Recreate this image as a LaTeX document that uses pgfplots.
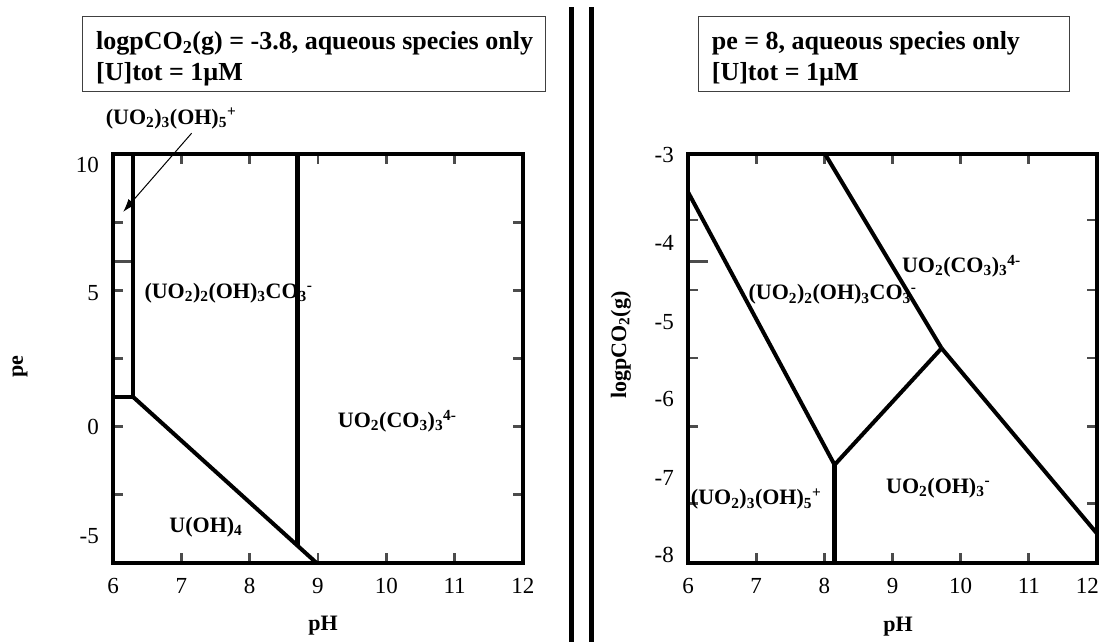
\documentclass[border=0pt]{standalone}
\usepackage{fontspec}
\setmainfont{Liberation Serif}
\usepackage{pgfplots}
\pgfplotsset{compat=1.18}
\usetikzlibrary{arrows.meta}

\newcommand{\sbs}[1]{\textsubscript{#1}}
\newcommand{\sps}[1]{\textsuperscript{#1}}
\newcommand{\tickfont}{\fontsize{23}{27}\selectfont}
\newcommand{\spfont}{\fontsize{22}{26}\selectfont\bfseries}
\newcommand{\titlefont}{\fontsize{26}{31}\selectfont\bfseries}

\pgfplotsset{
  pdiag/.style={
    scale only axis, axis line style={draw=none}, clip=false,
    xmin=6, xmax=12, xtick={6,...,12},
    tick align=inside, major tick length=10pt,
    tick style={line width=2.7pt, color=black!70},
    xticklabel style={font=\tickfont, inner sep=0pt, yshift=-15pt},
    yticklabels={},
    extra tick style={major tick length=0pt},
    extra y tick style={yticklabel style={font=\tickfont, inner sep=0pt, xshift=-14pt}},
  },
  bnd/.style={black, line width=4pt, no marks},
}
\tikzset{sp/.style={font=\spfont, inner sep=0pt}}

\begin{document}
\begin{tikzpicture}[x=1pt,y=1pt]
\useasboundingbox (0,0) rectangle (1103,642);

% pe-pH diagram at fixed pCO2
\begin{axis}[pdiag, at={(113pt,79pt)}, anchor=south west,
    width=410pt, height=409pt, ymin=-5, ymax=10,
    xticklabels={6,7,8,9,10,11,12},
    ytick={-2.5,0,2.5,5,7.5},
    extra y ticks={9.6,4.9,0,-4.03}, extra y tick labels={10,5,0,-5}]
  \addplot[black!70, line width=2.7pt, no marks] coordinates {(6,6.05) (6.29,6.05)};
  \addplot[bnd, line width=4.5pt] coordinates {(6.29,10) (6.29,1.1)};
  \addplot[bnd] coordinates {(6,1.1) (6.29,1.1)};
  \addplot[bnd] coordinates {(6.29,1.1) (8.98,-5)};
  \addplot[bnd, line width=4.5pt] coordinates {(8.70,10) (8.70,-4.33)};
  \draw[line width=4.5pt] (rel axis cs:0,0) rectangle (rel axis cs:1,1);
  \node[sp] at (axis cs:7.69,4.9) {(UO\sbs{2})\sbs{2}(OH)\sbs{3}CO\sbs{3}\sps{-}};
  \node[sp] at (axis cs:10.16,0.2) {UO\sbs{2}(CO\sbs{3})\sbs{3}\sps{4-}};
  \node[sp] at (axis cs:7.36,-3.7) {U(OH)\sbs{4}};
  \node[sp] at (axis cs:6.85,11.3) {(UO\sbs{2})\sbs{3}(OH)\sbs{5}\sps{+}};
  \draw[-{Latex[length=13pt,width=9pt]}, line width=1pt] (axis cs:7.15,10.76) -- (axis cs:6.15,7.88);
\end{axis}

% pCO2-pH diagram at fixed pe
\begin{axis}[pdiag, at={(688pt,79pt)}, anchor=south west,
    width=409pt, height=409pt, ymin=-8, ymax=-3,
    xticklabels={6,7,8,9,10,11,{}},
    extra x ticks={11.86}, extra x tick labels={12},
    ytick={-3.807,-4.663,-5.494,-6.334,-7.27},
    extra y ticks={-3.01,-4.09,-5.05,-6.0,-6.96,-7.90},
    extra y tick labels={-3,-4,-5,-6,-7,-8}]
  \addplot[black!70, line width=2.7pt, no marks] coordinates {(6,-4.317) (6.29,-4.317)};
  \addplot[bnd] coordinates {(6,-3.465) (8.15,-6.80)};
  \addplot[bnd, line width=4.5pt] coordinates {(8.15,-6.80) (8.15,-8)};
  \addplot[bnd] coordinates {(8.15,-6.80) (9.72,-5.375)};
  \addplot[bnd] coordinates {(8.01,-3) (9.72,-5.375)};
  \addplot[bnd] coordinates {(9.72,-5.375) (12,-7.64)};
  \draw[line width=4.5pt] (rel axis cs:0,0) rectangle (rel axis cs:1,1);
  \node[sp] at (axis cs:10.01,-4.37) {UO\sbs{2}(CO\sbs{3})\sbs{3}\sps{4-}};
  \node[sp] at (axis cs:8.12,-4.72) {(UO\sbs{2})\sbs{2}(OH)\sbs{3}CO\sbs{3}\sps{-}};
  \node[sp] at (axis cs:7.0,-7.22) {(UO\sbs{2})\sbs{3}(OH)\sbs{5}\sps{+}};
  \node[sp] at (axis cs:9.67,-7.08) {UO\sbs{2}(OH)\sbs{3}\sps{-}};
\end{axis}

% axis titles
\node[font=\fontsize{22}{26}\selectfont\bfseries, rotate=90] at (20,275) {pe};
\node[font=\fontsize{22}{26}\selectfont\bfseries] at (323,16) {pH};
\node[font=\fontsize{22}{26}\selectfont\bfseries] at (898,15) {pH};
\node[font=\fontsize{22}{26}\selectfont\bfseries, rotate=90] at (621,297) {logpCO\sbs{2}(g)};

% condition boxes
\draw[line width=1.5pt, black!75] (82.7,550.3) rectangle (545.7,625.3);
\node[anchor=base west, inner sep=0pt, font=\titlefont] at (96,592.7) {logpCO\sbs{2}(g) = -3.8, aqueous species only};
\node[anchor=base west, inner sep=0pt, font=\titlefont] at (96,561) {[U]tot = 1µM};
\draw[line width=1.5pt, black!75] (698.3,550.3) rectangle (1069.3,625.3);
\node[anchor=base west, inner sep=0pt, font=\titlefont] at (711.7,592.7) {pe = 8, aqueous species only};
\node[anchor=base west, inner sep=0pt, font=\titlefont] at (711.7,561) {[U]tot = 1µM};

% panel separator
\draw[line width=5pt] (571.7,0) -- (571.7,635);
\draw[line width=5pt] (591.5,0) -- (591.5,635);
\end{tikzpicture}
\end{document}
